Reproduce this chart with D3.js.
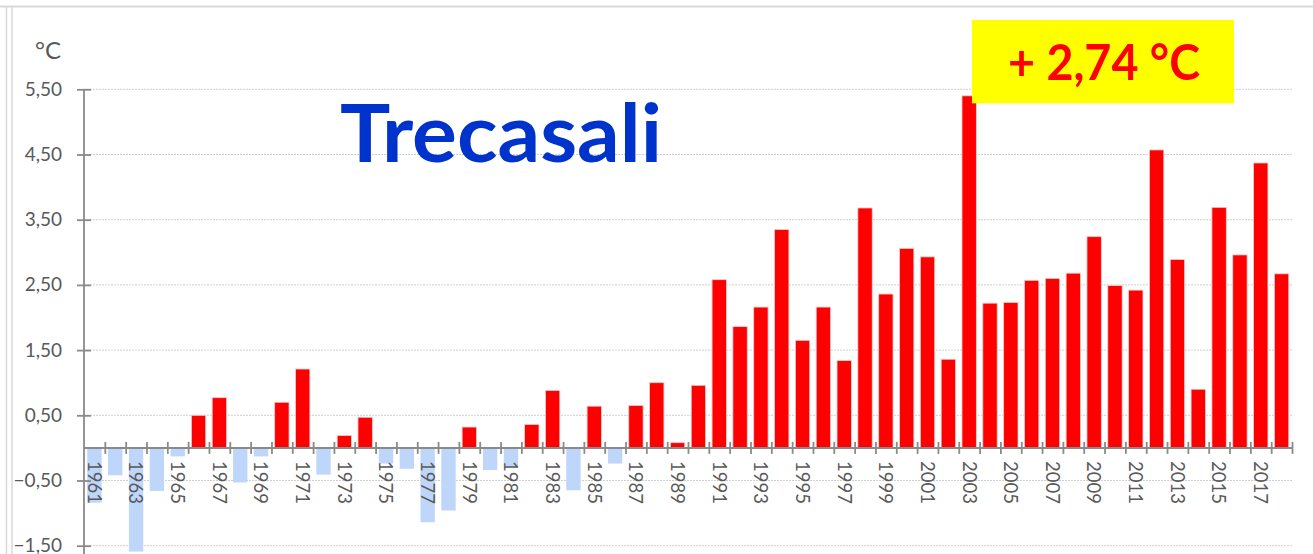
<!DOCTYPE html>
<html>
<head>
<meta charset="utf-8">
<script src="https://cdn.jsdelivr.net/npm/d3@7"></script>
<style>
  html, body { margin: 0; padding: 0; background: #ffffff; }
  svg { display: block; }
</style>
</head>
<body>
<svg id="chart" width="1313" height="554"></svg>
<script>
// ---- data ----
const years = d3.range(1961, 2019);
const anomalies = [
  -0.84, -0.42, -1.59, -0.66, -0.13, 0.50, 0.77, -0.53, -0.13, 0.70,
   1.21, -0.41, 0.19, 0.47, -0.24, -0.32, -1.14, -0.96, 0.32, -0.34,
  -0.28, 0.36, 0.88, -0.65, 0.64, -0.24, 0.65, 1.00, 0.08, 0.96,
   2.58, 1.86, 2.16, 3.35, 1.65, 2.16, 1.34, 3.68, 2.36, 3.06,
   2.93, 1.36, 5.40, 2.22, 2.23, 2.57, 2.60, 2.68, 3.24, 2.49,
   2.42, 4.57, 2.89, 0.90, 3.69, 2.96, 4.37, 2.67
];
const yTicks = [-1.5, -0.5, 0.5, 1.5, 2.5, 3.5, 4.5, 5.5];
const yearLabels = years.filter(y => y % 2 === 1);
const titleText = "Trecasali";
const badgeText = "+ 2,74 °C";
const unitText = "°C";

// ---- layout ----
const svg = d3.select("#chart");
const X0 = 84, X1 = 1292;
const fmt = v => d3.format(".2f")(v).replace(".", ",");

const y = d3.scaleLinear().domain([-1.5, 5.5]).range([545.7, 89.3]);
const x = d3.scaleBand().domain(years).range([X0, X1]).paddingInner(0.31).paddingOuter(0.155);
const xb = d3.scaleLinear().domain([0, years.length]).range([X0, X1]);

// frame lines
svg.append("line").attr("x1", 0).attr("x2", 1313).attr("y1", 6.5).attr("y2", 6.5)
  .attr("stroke", "#d9d9d9").attr("stroke-width", 2);
svg.append("line").attr("x1", 6.5).attr("x2", 6.5).attr("y1", 6).attr("y2", 554)
  .attr("stroke", "#d9d9d9").attr("stroke-width", 1.5);
svg.append("line").attr("x1", 12).attr("x2", 12).attr("y1", 6).attr("y2", 554)
  .attr("stroke", "#d9d9d9").attr("stroke-width", 1.5);

// gridlines
svg.append("g").selectAll("line").data(yTicks).join("line")
  .attr("x1", X0).attr("x2", X1)
  .attr("y1", d => y(d)).attr("y2", d => y(d))
  .attr("stroke", "#cfcfcf").attr("stroke-width", 1)
  .attr("stroke-dasharray", "2,1");

// title
svg.append("text").attr("x", 340).attr("y", 162)
  .attr("font-family", "Lato, 'Open Sans', sans-serif").attr("font-weight", 700)
  .attr("font-size", 80).attr("fill", "#0033cc")
  .attr("textLength", 322).attr("lengthAdjust", "spacingAndGlyphs")
  .text(titleText);

// bars
svg.append("g").selectAll("rect").data(years).join("rect")
  .attr("x", d => x(d))
  .attr("width", x.bandwidth())
  .attr("y", (d, i) => y(Math.max(0, anomalies[i])))
  .attr("height", (d, i) => Math.abs(y(anomalies[i]) - y(0)))
  .attr("fill", (d, i) => anomalies[i] >= 0 ? "#ff0000" : "#bfd6fb")
  .attr("stroke", (d, i) => anomalies[i] >= 0 ? "#f0d0d0" : "none")
  .attr("stroke-width", 0.8);

// y axis
const yAxis = svg.append("g").attr("transform", `translate(${X0},0)`)
  .call(d3.axisLeft(y).tickValues(yTicks).tickSize(7).tickPadding(15).tickFormat(fmt));
yAxis.select(".domain").remove();
yAxis.append("line").attr("x1", 0).attr("x2", 0).attr("y1", y(5.5)).attr("y2", 554)
  .attr("stroke", "#8a8a8a").attr("stroke-width", 1.8);
yAxis.selectAll(".tick line").attr("x2", 7).attr("x1", -7)
  .attr("stroke", "#8a8a8a").attr("stroke-width", 1.8);
yAxis.selectAll(".tick text")
  .attr("font-family", "Lato, 'Open Sans', sans-serif").attr("font-size", 19)
  .attr("fill", "#595959");

// x axis (zero line, boundary ticks)
const xAxis = svg.append("g").attr("transform", `translate(0,${y(0)})`)
  .call(d3.axisBottom(xb).tickValues(d3.range(1, years.length + 1)).tickSize(6).tickFormat(""));
xAxis.select(".domain").attr("stroke", "#8a8a8a").attr("stroke-width", 2)
  .attr("d", `M${X0},0H${X1}`);
xAxis.selectAll(".tick line").attr("y1", -6).attr("y2", 6)
  .attr("stroke", "#8a8a8a").attr("stroke-width", 1.8);

// year labels
svg.append("g").selectAll("text").data(yearLabels).join("text")
  .attr("transform", d => `translate(${x(d) + x.bandwidth() / 2},461) rotate(90)`)
  .attr("dy", "0.36em")
  .attr("font-family", "Lato, 'Open Sans', sans-serif").attr("font-size", 18.5)
  .attr("fill", "#595959")
  .text(d => d);

// unit label
svg.append("text").attr("x", 35).attr("y", 59)
  .attr("font-family", "Lato, 'Open Sans', sans-serif").attr("font-size", 24)
  .attr("fill", "#595959").text(unitText);

// badge
svg.append("rect").attr("x", 972).attr("y", 20).attr("width", 262).attr("height", 83.3)
  .attr("fill", "#ffff00");
svg.append("text").attr("x", 1008).attr("y", 79.5)
  .attr("font-family", "Lato, 'Open Sans', sans-serif").attr("font-weight", 700)
  .attr("font-size", 50).attr("fill", "#ff0000")
  .attr("textLength", 192).attr("lengthAdjust", "spacingAndGlyphs")
  .text(badgeText);
</script>
</body>
</html>
